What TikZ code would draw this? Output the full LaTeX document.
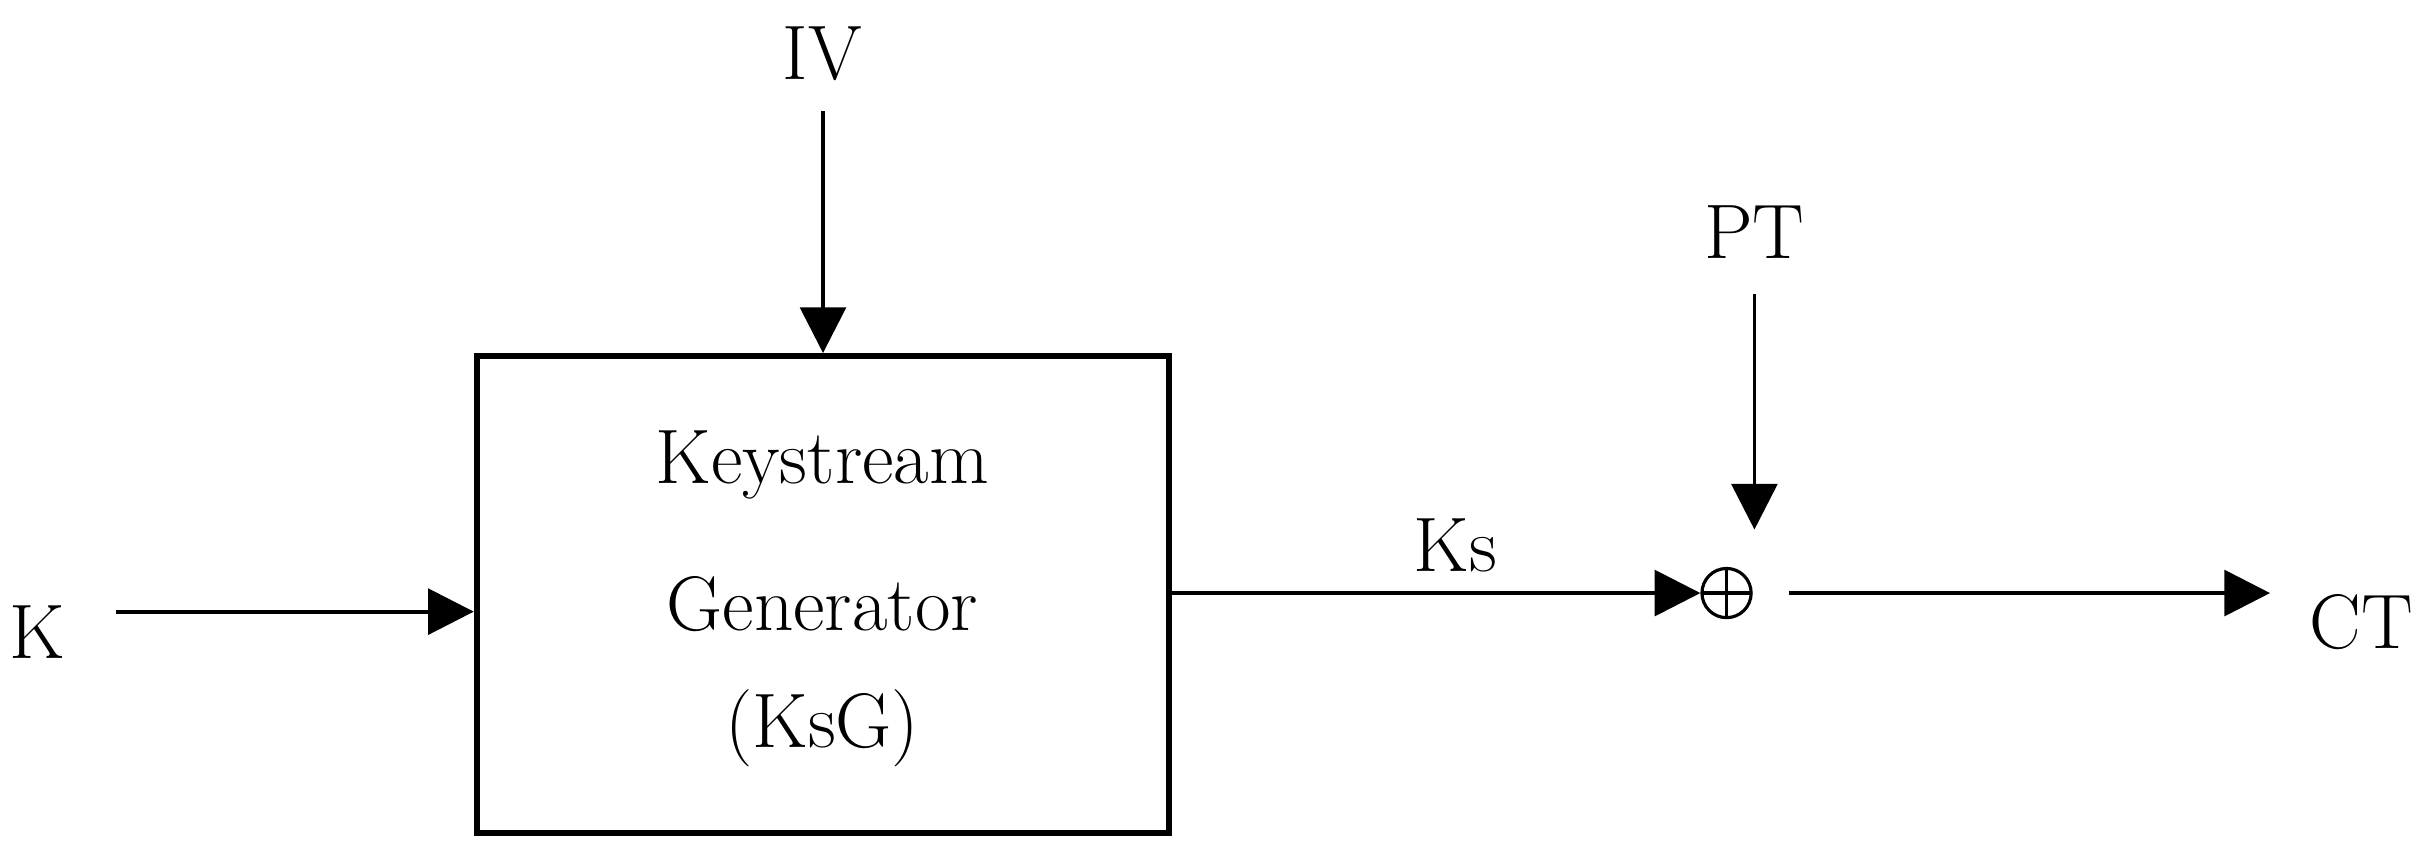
\documentclass[tikz,border=0pt]{standalone}
\usetikzlibrary{arrows.meta}
\begin{document}
\begin{tikzpicture}[x=0.015485cm,y=-0.015485cm,
  lbl/.style={font=\fontsize{22}{26}\selectfont},
  arr/.style={line width=1.1pt,-{Triangle[length=13pt,width=13pt]}},
  xor/.style={circle,draw,line width=0.9pt,minimum size=14pt,inner sep=0pt,
    path picture={\draw[line width=0.9pt] (path picture bounding box.north)--(path picture bounding box.south) (path picture bounding box.west)--(path picture bounding box.east);}}]
\useasboundingbox (0,0) rectangle (1568,553);
\node[draw,line width=1.8pt,minimum width=6.922cm,minimum height=4.769cm,inner sep=0pt] (box) at (531.5,384) {};
\node[lbl] (t1) at (531,300) {Keystream};
\node[lbl] (t2) at (531,390) {Generator};
\node[lbl] (t3) at (531,470) {(KsG)};
\node[lbl] (iv) at (531,35) {IV};
\node[lbl] (k) at (24,408) {K};
\node[lbl] (ks) at (940,352) {Ks};
\node[lbl] (pt) at (1133,150) {PT};
\node[lbl] (ct) at (1525,402) {CT};
\node[xor] (x) at (1115,383) {};
\coordinate (ivs) at (531.5,72);
\coordinate (ks0) at (75,395);
\coordinate (pts) at (1133,190);
\coordinate (pte) at (1133,342);
\coordinate (xo) at (1155,383);
\coordinate (cte) at (1466,383);
\draw[arr] (ivs) -- (box.north);
\draw[arr] (ks0) -- (box.west |- ks0);
\draw[arr] (box.east |- x) -- (x.west);
\draw[arr] (pts) -- (pte);
\draw[arr] (xo) -- (cte);
\end{tikzpicture}
\end{document}
